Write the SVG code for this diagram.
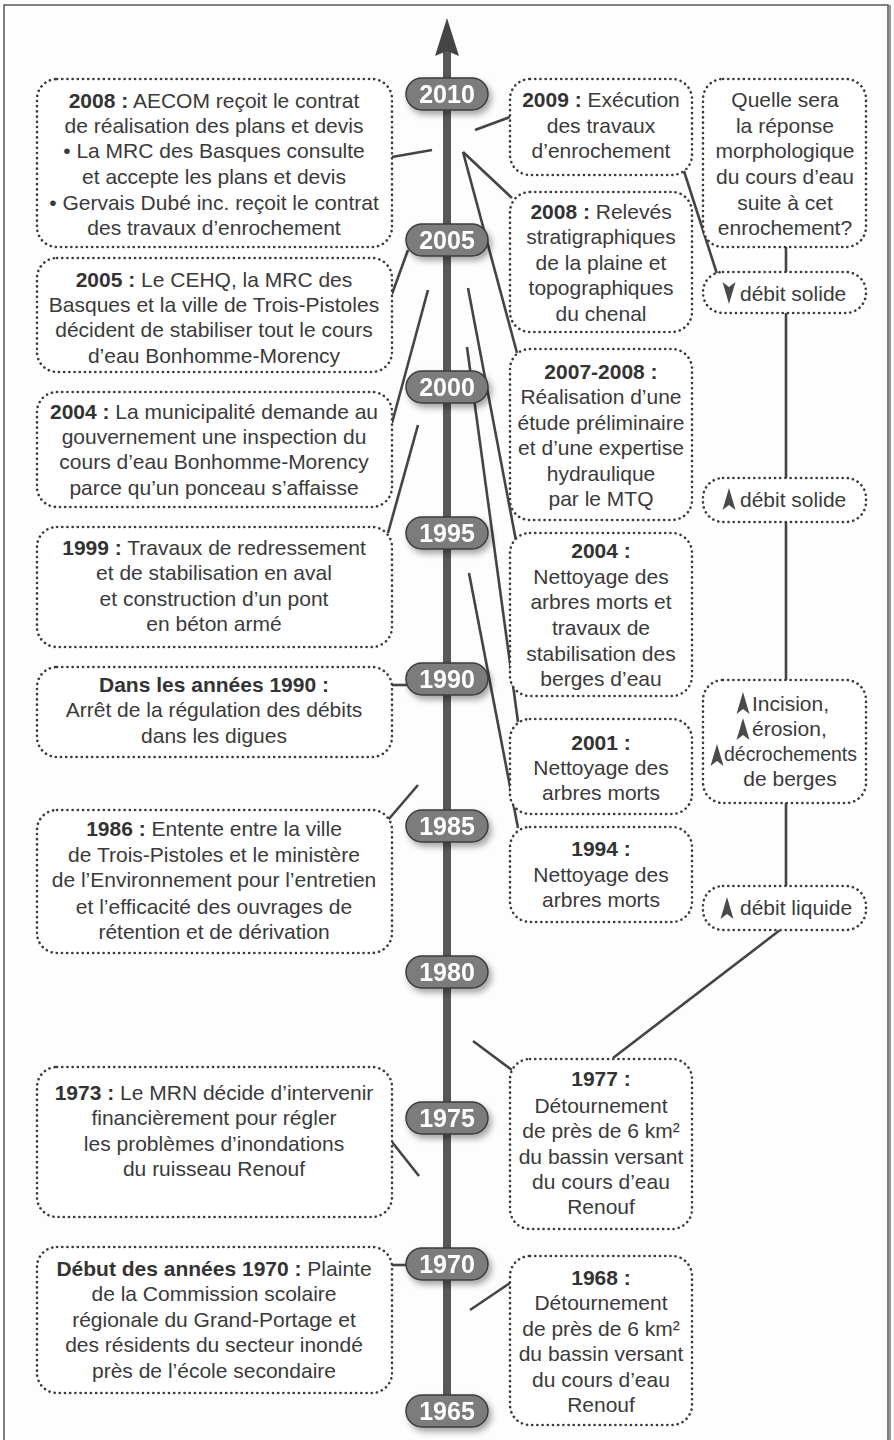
<svg xmlns="http://www.w3.org/2000/svg" width="894" height="1440" viewBox="0 0 894 1440">
<defs>
<style>
.box{fill:#ffffff;stroke:#3a3a3a;stroke-width:2.6;stroke-dasharray:0.1 5.1;stroke-linecap:round}
.t{font-family:"Liberation Sans",Arial,sans-serif;font-size:21px;fill:#3a3a3a;text-anchor:middle}
.b{font-weight:bold;fill:#333333}
.yr{font-family:"Liberation Sans",Arial,sans-serif;font-size:25px;font-weight:bold;fill:#ffffff;text-anchor:middle}
.pill{fill:#7b7b7b;stroke:#3c3c3c;stroke-width:1.5}
.con{stroke:#444444;stroke-width:2.6;fill:none;stroke-linecap:butt}
.tri{fill:#4a4a4a}
</style>
<filter id="sh" x="-30%" y="-40%" width="170%" height="200%">
<feDropShadow dx="3" dy="4" stdDeviation="3" flood-color="#000" flood-opacity="0.35"/>
</filter>
<path id="up" d="M0,0 L6.5,22 L0,17 L-6.5,22 Z"/>
<path id="down" d="M0,22 L6.5,0 L0,5 L-6.5,0 Z"/>
</defs>
<rect x="0" y="0" width="894" height="1440" fill="#fdfdfd"/>
<rect x="4" y="5" width="884" height="1450" fill="none" stroke="#555" stroke-width="1.5"/>
<line x1="890" y1="5" x2="890" y2="1440" stroke="#999" stroke-width="2"/>

<g id="connectors">
<line class="con" x1="392" y1="157" x2="432" y2="150"/>
<line class="con" x1="475" y1="130" x2="510" y2="117"/>
<line class="con" x1="463" y1="152" x2="512" y2="198"/>
<line class="con" x1="463" y1="152" x2="517" y2="353"/>
<line class="con" x1="408" y1="250" x2="392" y2="294"/>
<line class="con" x1="428" y1="290" x2="392" y2="423"/>
<line class="con" x1="468" y1="288" x2="517" y2="546"/>
<line class="con" x1="467" y1="347" x2="518" y2="722"/>
<line class="con" x1="418" y1="425" x2="388" y2="533"/>
<line class="con" x1="469" y1="573" x2="518" y2="828"/>
<line class="con" x1="390" y1="685" x2="408" y2="685"/>
<line class="con" x1="418" y1="785" x2="388" y2="820"/>
<line class="con" x1="473" y1="1041" x2="512" y2="1070"/>
<line class="con" x1="392" y1="1142" x2="419" y2="1176"/>
<line class="con" x1="390" y1="1265" x2="408" y2="1265"/>
<line class="con" x1="470" y1="1310" x2="510" y2="1283"/>
<line class="con" x1="683" y1="168" x2="718" y2="277"/>
<line class="con" x1="786" y1="247" x2="786" y2="272"/>
<line class="con" x1="786" y1="313" x2="786" y2="478"/>
<line class="con" x1="786" y1="522" x2="786" y2="680"/>
<line class="con" x1="786" y1="803" x2="786" y2="886"/>
<line class="con" x1="780" y1="930" x2="613" y2="1058"/>
</g>

<g id="axis">
<line x1="447" y1="50" x2="447" y2="1400" stroke="#585858" stroke-width="8"/>
<path d="M447,18 L459,56 L447,51 L435,56 Z" fill="#444"/>
</g>

<g id="years" filter="url(#sh)">
<g id="y2010"><rect class="pill" x="406" y="78" width="82" height="32" rx="16"/><text class="yr" x="447" y="103">2010</text></g>
<g id="y2005"><rect class="pill" x="406" y="224" width="82" height="32" rx="16"/><text class="yr" x="447" y="249">2005</text></g>
<g id="y2000"><rect class="pill" x="406" y="371" width="82" height="32" rx="16"/><text class="yr" x="447" y="396">2000</text></g>
<g id="y1995"><rect class="pill" x="406" y="517" width="82" height="32" rx="16"/><text class="yr" x="447" y="542">1995</text></g>
<g id="y1990"><rect class="pill" x="406" y="663" width="82" height="32" rx="16"/><text class="yr" x="447" y="688">1990</text></g>
<g id="y1985"><rect class="pill" x="406" y="810" width="82" height="32" rx="16"/><text class="yr" x="447" y="835">1985</text></g>
<g id="y1980"><rect class="pill" x="406" y="956" width="82" height="32" rx="16"/><text class="yr" x="447" y="981">1980</text></g>
<g id="y1975"><rect class="pill" x="406" y="1102" width="82" height="32" rx="16"/><text class="yr" x="447" y="1127">1975</text></g>
<g id="y1970"><rect class="pill" x="406" y="1248" width="82" height="32" rx="16"/><text class="yr" x="447" y="1273">1970</text></g>
<g id="y1965"><rect class="pill" x="406" y="1395" width="82" height="32" rx="16"/><text class="yr" x="447" y="1420">1965</text></g>
</g>

<g id="n2008a">
<rect class="box" x="37" y="79" width="355" height="168" rx="20"/>
<text class="t" x="214" y="108"><tspan class="b">2008 :</tspan> AECOM reçoit le contrat</text>
<text class="t" x="214" y="133">de réalisation des plans et devis</text>
<text class="t" x="214" y="158">• La MRC des Basques consulte</text>
<text class="t" x="214" y="184">et accepte les plans et devis</text>
<text class="t" x="214" y="210">• Gervais Dubé inc. reçoit le contrat</text>
<text class="t" x="214" y="235">des travaux d’enrochement</text>
</g>
<g id="n2005">
<rect class="box" x="37" y="258" width="355" height="114" rx="20"/>
<text class="t" x="214" y="287"><tspan class="b">2005 :</tspan> Le CEHQ, la MRC des</text>
<text class="t" x="214" y="312">Basques et la ville de Trois-Pistoles</text>
<text class="t" x="214" y="337">décident de stabiliser tout le cours</text>
<text class="t" x="214" y="363">d’eau Bonhomme-Morency</text>
</g>
<g id="n2004a">
<rect class="box" x="37" y="392" width="355" height="115" rx="20"/>
<text class="t" x="214" y="419"><tspan class="b">2004 :</tspan> La municipalité demande au</text>
<text class="t" x="214" y="444">gouvernement une inspection du</text>
<text class="t" x="214" y="469">cours d’eau Bonhomme-Morency</text>
<text class="t" x="214" y="495">parce qu’un ponceau s’affaisse</text>
</g>
<g id="n1999">
<rect class="box" x="37" y="527" width="355" height="120" rx="20"/>
<text class="t" x="214" y="555"><tspan class="b">1999 :</tspan> Travaux de redressement</text>
<text class="t" x="214" y="580">et de stabilisation en aval</text>
<text class="t" x="214" y="606">et construction d’un pont</text>
<text class="t" x="214" y="631">en béton armé</text>
</g>
<g id="n1990s">
<rect class="box" x="37" y="667" width="355" height="90" rx="20"/>
<text class="t b" x="214" y="692">Dans les années 1990 :</text>
<text class="t" x="214" y="717">Arrêt de la régulation des débits</text>
<text class="t" x="214" y="743">dans les digues</text>
</g>
<g id="n1986">
<rect class="box" x="37" y="810" width="355" height="143" rx="20"/>
<text class="t" x="214" y="836"><tspan class="b">1986 :</tspan> Entente entre la ville</text>
<text class="t" x="214" y="862">de Trois-Pistoles et le ministère</text>
<text class="t" x="214" y="887">de l’Environnement pour l’entretien</text>
<text class="t" x="214" y="914">et l’efficacité des ouvrages de</text>
<text class="t" x="214" y="939">rétention et de dérivation</text>
</g>
<g id="n1973">
<rect class="box" x="37" y="1067" width="355" height="150" rx="20"/>
<text class="t" x="214" y="1100"><tspan class="b">1973 :</tspan> Le MRN décide d’intervenir</text>
<text class="t" x="214" y="1125">financièrement pour régler</text>
<text class="t" x="214" y="1151">les problèmes d’inondations</text>
<text class="t" x="214" y="1176">du ruisseau Renouf</text>
</g>
<g id="n1970s">
<rect class="box" x="37" y="1247" width="355" height="146" rx="20"/>
<text class="t" x="214" y="1276"><tspan class="b">Début des années 1970 :</tspan> Plainte</text>
<text class="t" x="214" y="1301">de la Commission scolaire</text>
<text class="t" x="214" y="1327">régionale du Grand-Portage et</text>
<text class="t" x="214" y="1352">des résidents du secteur inondé</text>
<text class="t" x="214" y="1378">près de l’école secondaire</text>
</g>

<g id="n2009">
<rect class="box" x="510" y="79" width="182" height="96" rx="20"/>
<text class="t" x="601" y="107"><tspan class="b">2009 :</tspan> Exécution</text>
<text class="t" x="601" y="133">des travaux</text>
<text class="t" x="601" y="158">d’enrochement</text>
</g>
<g id="n2008b">
<rect class="box" x="510" y="192" width="182" height="140" rx="20"/>
<text class="t" x="601" y="219"><tspan class="b">2008 :</tspan> Relevés</text>
<text class="t" x="601" y="244">stratigraphiques</text>
<text class="t" x="601" y="270">de la plaine et</text>
<text class="t" x="601" y="295">topographiques</text>
<text class="t" x="601" y="321">du chenal</text>
</g>
<g id="n2007">
<rect class="box" x="510" y="349" width="182" height="171" rx="20"/>
<text class="t b" x="601" y="379">2007-2008 :</text>
<text class="t" x="601" y="404">Réalisation d’une</text>
<text class="t" x="601" y="430">étude préliminaire</text>
<text class="t" x="601" y="455">et d’une expertise</text>
<text class="t" x="601" y="481">hydraulique</text>
<text class="t" x="601" y="506">par le MTQ</text>
</g>
<g id="n2004b">
<rect class="box" x="510" y="533" width="182" height="163" rx="20"/>
<text class="t b" x="601" y="558">2004 :</text>
<text class="t" x="601" y="584">Nettoyage des</text>
<text class="t" x="601" y="609">arbres morts et</text>
<text class="t" x="601" y="635">travaux de</text>
<text class="t" x="601" y="661">stabilisation des</text>
<text class="t" x="601" y="686">berges d’eau</text>
</g>
<g id="n2001">
<rect class="box" x="510" y="719" width="182" height="95" rx="20"/>
<text class="t b" x="601" y="750">2001 :</text>
<text class="t" x="601" y="775">Nettoyage des</text>
<text class="t" x="601" y="800">arbres morts</text>
</g>
<g id="n1994">
<rect class="box" x="510" y="827" width="182" height="95" rx="20"/>
<text class="t b" x="601" y="856">1994 :</text>
<text class="t" x="601" y="882">Nettoyage des</text>
<text class="t" x="601" y="907">arbres morts</text>
</g>
<g id="n1977">
<rect class="box" x="510" y="1059" width="182" height="170" rx="20"/>
<text class="t b" x="601" y="1086">1977 :</text>
<text class="t" x="601" y="1113">Détournement</text>
<text class="t" x="601" y="1138">de près de 6 km²</text>
<text class="t" x="601" y="1164">du bassin versant</text>
<text class="t" x="601" y="1189">du cours d’eau</text>
<text class="t" x="601" y="1214">Renouf</text>
</g>
<g id="n1968">
<rect class="box" x="510" y="1256" width="182" height="169" rx="20"/>
<text class="t b" x="601" y="1285">1968 :</text>
<text class="t" x="601" y="1310">Détournement</text>
<text class="t" x="601" y="1336">de près de 6 km²</text>
<text class="t" x="601" y="1361">du bassin versant</text>
<text class="t" x="601" y="1387">du cours d’eau</text>
<text class="t" x="601" y="1412">Renouf</text>
</g>

<g id="nQuestion">
<rect class="box" x="703" y="79" width="163" height="168" rx="20"/>
<text class="t" x="785" y="107">Quelle sera</text>
<text class="t" x="785" y="133">la réponse</text>
<text class="t" x="785" y="158">morphologique</text>
<text class="t" x="785" y="184">du cours d’eau</text>
<text class="t" x="785" y="210">suite à cet</text>
<text class="t" x="785" y="235">enrochement?</text>
</g>
<g id="nSolideDown">
<rect class="box" x="703" y="272" width="163" height="41" rx="20"/>
<use href="#down" class="tri" x="729" y="282"/>
<text class="t" x="740" y="301" style="text-anchor:start">débit solide</text>
</g>
<g id="nSolideUp">
<rect class="box" x="703" y="478" width="163" height="44" rx="20"/>
<use href="#up" class="tri" x="729" y="488"/>
<text class="t" x="740" y="507" style="text-anchor:start">débit solide</text>
</g>
<g id="nIncision">
<rect class="box" x="703" y="680" width="163" height="123" rx="20"/>
<use href="#up" class="tri" x="743" y="692"/>
<text class="t" x="752" y="711" style="text-anchor:start">Incision,</text>
<use href="#up" class="tri" x="743" y="718"/>
<text class="t" x="752" y="736" style="text-anchor:start">érosion,</text>
<use href="#up" class="tri" x="717" y="744"/>
<text class="t" x="724" y="761" style="text-anchor:start" textLength="133" lengthAdjust="spacingAndGlyphs">décrochements</text>
<text class="t" x="790" y="786">de berges</text>
</g>
<g id="nLiquide">
<rect class="box" x="703" y="886" width="163" height="44" rx="20"/>
<use href="#up" class="tri" x="727" y="897"/>
<text class="t" x="740" y="915" style="text-anchor:start">débit liquide</text>
</g>
</svg>
